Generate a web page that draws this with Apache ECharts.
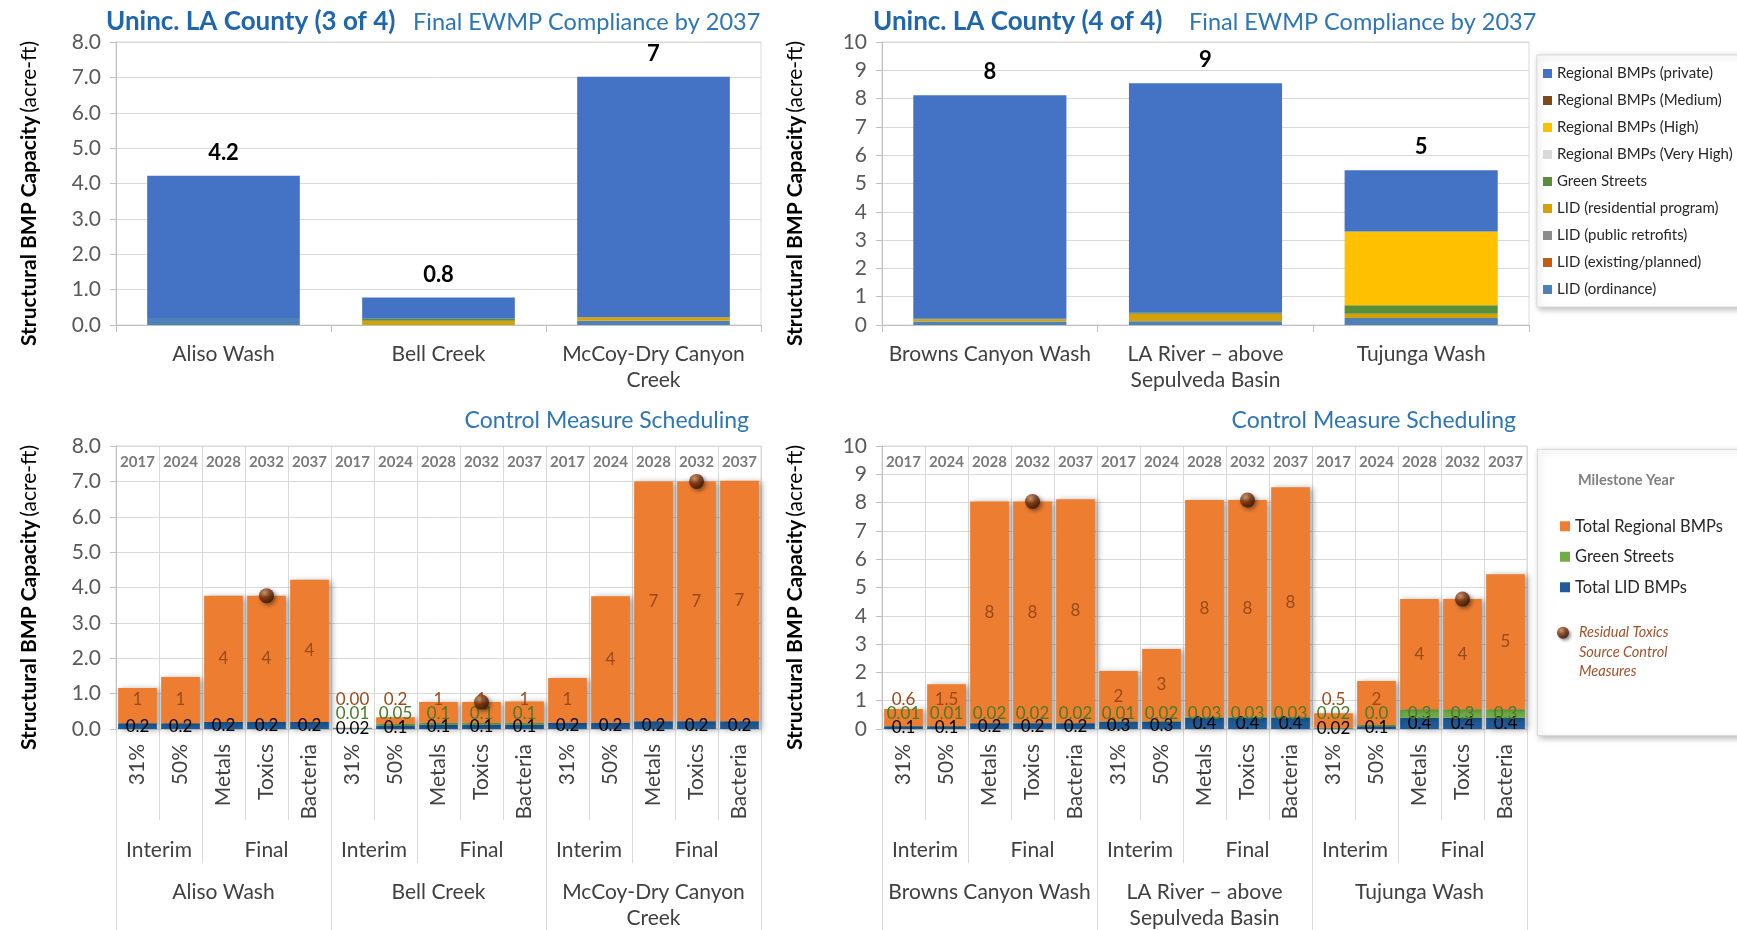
<!DOCTYPE html>
<html>
<head>
<meta charset="utf-8">
<title>Uninc. LA County – EWMP Compliance</title>
<script src="https://cdn.jsdelivr.net/npm/echarts@6/dist/echarts.min.js"></script>
<style>
  html, body { margin: 0; padding: 0; background: #ffffff; }
  #chart { width: 1737px; height: 930px; }
</style>
</head>
<body>
<div id="chart"></div>
<script>
// ---------------- categories ----------------
const watershedsLeft  = ['Aliso Wash', 'Bell Creek', 'McCoy-Dry Canyon\nCreek'];
const watershedsRight = ['Browns Canyon Wash', 'LA River – above\nSepulveda Basin', 'Tujunga Wash'];
const milestoneYears  = ['2017', '2024', '2028', '2032', '2037'];
const targets         = ['31%', '50%', 'Metals', 'Toxics', 'Bacteria'];
const phaseNames      = ['Interim', 'Final'];
const phaseSpans      = [2, 3];
const residualTarget  = 'Toxics';

// ---------------- final compliance by 2037 (acre-ft), watersheds 3 of 4 ----------------
const lidOrdinanceL      = [0.20, 0.00, 0.12];
const lidExistingL       = [0, 0, 0];
const lidPublicL         = [0, 0, 0];
const lidResidentialL    = [0.00, 0.12, 0.10];
const greenStreetsL      = [0.00, 0.06, 0.00];
const regionalVeryHighL  = [0, 0, 0];
const regionalHighL      = [0, 0, 0];
const regionalMediumL    = [0, 0, 0];
const regionalPrivateL   = [4.02, 0.60, 6.80];
const totalDigitsL       = [1, 1, 0];

// ---------------- final compliance by 2037 (acre-ft), watersheds 4 of 4 ----------------
const lidOrdinanceR      = [0.12, 0.13, 0.25];
const lidExistingR       = [0, 0, 0];
const lidPublicR         = [0, 0, 0];
const lidResidentialR    = [0.08, 0.27, 0.15];
const greenStreetsR      = [0.02, 0.03, 0.30];
const regionalVeryHighR  = [0, 0, 0];
const regionalHighR      = [0.00, 0.00, 2.60];
const regionalMediumR    = [0, 0, 0];
const regionalPrivateR   = [7.90, 8.11, 2.17];
const totalDigitsR       = [0, 0, 0];

// ---------------- control measure scheduling (acre-ft) ----------------
// five milestones per watershed, in watershed order
const lidTotalL        = [0.16, 0.16, 0.20, 0.20, 0.20,  0.02, 0.10, 0.12, 0.12, 0.12,  0.18, 0.18, 0.22, 0.22, 0.22];
const greenTotalL      = [0, 0, 0, 0, 0,                 0.01, 0.05, 0.06, 0.06, 0.06,  0, 0, 0, 0, 0];
const regionalTotalL   = [1.00, 1.31, 3.57, 3.57, 4.02,  0.004, 0.18, 0.58, 0.58, 0.60, 1.26, 3.57, 6.78, 6.78, 6.80];
const lidDigitsL       = [1, 1, 1, 1, 1,  2, 1, 1, 1, 1,  1, 1, 1, 1, 1];
const greenDigitsL     = [2, 2, 2, 2, 2,  2, 2, 1, 1, 1,  2, 2, 2, 2, 2];
const regionalDigitsL  = [0, 0, 0, 0, 0,  2, 1, 0, 0, 0,  0, 0, 0, 0, 0];

const lidTotalR        = [0.10, 0.10, 0.20, 0.20, 0.20,  0.26, 0.26, 0.40, 0.40, 0.40,  0.02, 0.10, 0.40, 0.40, 0.40];
const greenTotalR      = [0.01, 0.01, 0.02, 0.02, 0.02,  0.01, 0.02, 0.03, 0.03, 0.03,  0.02, 0.04, 0.30, 0.30, 0.30];
const regionalTotalR   = [0.60, 1.47, 7.82, 7.82, 7.90,  1.78, 2.55, 7.66, 7.66, 8.11,  0.52, 1.56, 3.89, 3.89, 4.77];
const lidDigitsR       = [1, 1, 1, 1, 1,  1, 1, 1, 1, 1,  2, 1, 1, 1, 1];
const greenDigitsR     = [2, 2, 2, 2, 2,  2, 2, 2, 2, 2,  2, 1, 1, 1, 1];
const regionalDigitsR  = [1, 1, 0, 0, 0,  0, 0, 0, 0, 0,  1, 0, 0, 0, 0];

// ---------------- layout & style ----------------
const FONT = 'Lato, "Open Sans", "Noto Sans", sans-serif';
const TOP_Y = 42, TOP_H = 283;
const SCHED_Y = 446, SCHED_H = 283;
const AXIS_ZERO_Y = SCHED_Y + SCHED_H;
const GRID_LINE = '#d9d9d9';
const AXIS_LINE = '#bfbfbf';

const bmpLayers = [ // stacked bottom to top
  { name: 'LID (ordinance)',           color: '#4f81b9', left: lidOrdinanceL,     right: lidOrdinanceR },
  { name: 'LID (existing/planned)',    color: '#c55a11', left: lidExistingL,      right: lidExistingR },
  { name: 'LID (public retrofits)',    color: '#8c8c8c', left: lidPublicL,        right: lidPublicR },
  { name: 'LID (residential program)', color: '#d4a106', left: lidResidentialL,   right: lidResidentialR },
  { name: 'Green Streets',             color: '#588e37', left: greenStreetsL,     right: greenStreetsR },
  { name: 'Regional BMPs (Very High)', color: '#d9d9d9', left: regionalVeryHighL, right: regionalVeryHighR },
  { name: 'Regional BMPs (High)',      color: '#ffc000', left: regionalHighL,     right: regionalHighR },
  { name: 'Regional BMPs (Medium)',    color: '#7b4a16', left: regionalMediumL,   right: regionalMediumR },
  { name: 'Regional BMPs (private)',   color: '#4472c4', left: regionalPrivateL,  right: regionalPrivateR }
];

const COLOR_REGIONAL = '#ed7d31';
const COLOR_GREEN = '#70ad47';
const COLOR_LID = '#1f5c99';
const sphere = {
  type: 'radial', x: 0.38, y: 0.32, r: 0.72,
  colorStops: [
    { offset: 0, color: '#d08a52' },
    { offset: 0.45, color: '#7c3610' },
    { offset: 1, color: '#2b1002' }
  ]
};

function stackTotals(side) {
  return bmpLayers[0][side].map((_, i) => bmpLayers.reduce((s, l) => s + l[side][i], 0));
}
const totalsLeft = stackTotals('left');
const totalsRight = stackTotals('right');

// ---------------- axes ----------------
function valueAxis(gridIndex, max, digits) {
  return {
    type: 'value', gridIndex, min: 0, max, interval: 1,
    axisLabel: { formatter: v => v.toFixed(digits), fontSize: 21, color: '#595959', margin: 15, fontFamily: FONT },
    axisLine: { show: true, lineStyle: { color: AXIS_LINE } },
    axisTick: { show: true, length: 6, lineStyle: { color: AXIS_LINE } },
    splitLine: { show: true, lineStyle: { color: GRID_LINE } },
    name: '{b|Structural BMP Capacity} {r|(acre-ft)}',
    nameLocation: 'middle', nameGap: 76,
    nameTextStyle: {
      padding: [0, 20, 0, 0],
      rich: {
        b: { fontWeight: 'bold', fontSize: 21, color: '#000', fontFamily: FONT },
        r: { fontSize: 21, color: '#000', fontFamily: FONT }
      }
    }
  };
}

function complianceXAxis(gridIndex, data) {
  return {
    type: 'category', gridIndex, data, position: 'bottom',
    axisLabel: { interval: 0, fontSize: 21, lineHeight: 26, color: '#404040', margin: 16, fontFamily: FONT },
    axisTick: { show: true, length: 7, lineStyle: { color: AXIS_LINE } },
    axisLine: { show: true, lineStyle: { color: AXIS_LINE } },
    splitLine: { show: false }
  };
}

// one column per milestone, grouped by watershed
function scheduleColumns(watersheds) {
  const cols = [], years = [];
  watersheds.forEach(() => { targets.forEach(t => cols.push(t)); milestoneYears.forEach(y => years.push(y)); });
  return { cols, years };
}
// points at half-column steps: index 2*k is the left edge of column k
function levelRows(watersheds) {
  const n = watersheds.length * targets.length * 2 + 1;
  const phaseRow = new Array(n).fill('');
  const shedRow = new Array(n).fill('');
  const phaseEdges = [];
  const shedEdges = [];
  watersheds.forEach((w, wi) => {
    const base = wi * targets.length * 2;
    shedEdges.push(base);
    shedRow[base + targets.length] = w;
    let start = base;
    phaseNames.forEach((p, pi) => {
      phaseRow[start + phaseSpans[pi]] = p;
      start += phaseSpans[pi] * 2;
      if (pi < phaseNames.length - 1) phaseEdges.push(start);
    });
  });
  shedEdges.push(n - 1);
  return { phaseRow, shedRow, phaseEdges, shedEdges };
}

function scheduleXAxes(gridIndex, watersheds) {
  const { cols, years } = scheduleColumns(watersheds);
  const { phaseRow, shedRow, phaseEdges, shedEdges } = levelRows(watersheds);
  return [
    {
      type: 'category', gridIndex, data: cols, position: 'bottom', boundaryGap: true,
      axisLabel: { interval: 0, rotate: 90, margin: 15, fontSize: 21, color: '#404040', fontFamily: FONT },
      axisTick: { show: true, interval: 0, length: 91, lineStyle: { color: GRID_LINE } },
      axisLine: { show: true, lineStyle: { color: GRID_LINE } },
      splitLine: { show: true, interval: 0, lineStyle: { color: GRID_LINE } }
    },
    {
      type: 'category', gridIndex, data: years, position: 'top', boundaryGap: true,
      axisLabel: { inside: true, interval: 0, margin: 9, fontSize: 15, fontWeight: 'bold', color: '#7a7a7a', fontFamily: FONT },
      axisTick: { show: false }, axisLine: { show: false }, splitLine: { show: false }
    },
    {
      type: 'category', gridIndex, data: phaseRow, position: 'bottom', boundaryGap: false,
      axisLabel: { interval: 0, margin: 108, fontSize: 21, lineHeight: 26, color: '#404040', fontFamily: FONT },
      axisTick: { show: true, interval: i => phaseEdges.includes(i), length: 134, lineStyle: { color: GRID_LINE } },
      axisLine: { show: false }, splitLine: { show: false }
    },
    {
      type: 'category', gridIndex, data: shedRow, position: 'bottom', boundaryGap: false,
      axisLabel: { interval: 0, margin: 150, fontSize: 21, lineHeight: 26, color: '#404040', fontFamily: FONT },
      axisTick: { show: true, interval: i => shedEdges.includes(i), length: 215, lineStyle: { color: GRID_LINE } },
      axisLine: { show: false }, splitLine: { show: false }
    }
  ];
}

// ---------------- series ----------------
function complianceSeries(side, xAxisIndex, yAxisIndex, totals, digits) {
  return bmpLayers.map((layer, li) => {
    const s = {
      type: 'bar', name: layer.name, stack: 'compliance-' + side,
      xAxisIndex, yAxisIndex, data: layer[side],
      barCategoryGap: '29%',
      itemStyle: { color: layer.color },
      emphasis: { disabled: true }
    };
    if (li === bmpLayers.length - 1) {
      s.label = {
        show: true, position: 'top', distance: 12,
        fontSize: 22, fontWeight: 'bold', color: '#000', fontFamily: FONT,
        formatter: p => totals[p.dataIndex].toFixed(digits[p.dataIndex])
      };
    }
    return s;
  });
}

// labels of thin segments are lifted so the three values read as a column
const liftLabel = lift => params => {
  const r = params.rect;
  const cy = r.y + r.height / 2;
  return { x: r.x + r.width / 2, y: Math.min(cy, AXIS_ZERO_Y - lift), align: 'center', verticalAlign: 'middle' };
};

function fmt(values, digits) {
  return p => (values[p.dataIndex] > 0 ? values[p.dataIndex].toFixed(digits[p.dataIndex]) : '');
}

const barShadow = { shadowColor: 'rgba(0,0,0,0.35)', shadowBlur: 6, shadowOffsetX: 3, shadowOffsetY: 1 };

function scheduleSeries(tag, xAxisIndex, yAxisIndex, lid, green, regional, lidD, greenD, regionalD) {
  const common = { type: 'bar', stack: 'schedule-' + tag, xAxisIndex, yAxisIndex, barCategoryGap: '10%', emphasis: { disabled: true } };
  const totals = lid.map((v, i) => v + green[i] + regional[i]);
  const residualPoints = [];
  totals.forEach((t, i) => { if (targets[i % targets.length] === residualTarget) residualPoints.push([i, t]); });
  return [
    Object.assign({}, common, {
      name: 'Total LID BMPs', data: lid,
      itemStyle: Object.assign({ color: COLOR_LID }, barShadow),
      label: { show: true, position: 'inside', fontSize: 17, color: '#000', fontFamily: FONT, formatter: fmt(lid, lidD) }
    }),
    Object.assign({}, common, {
      name: 'Green Streets', data: green,
      itemStyle: Object.assign({ color: COLOR_GREEN }, barShadow),
      label: { show: true, position: 'inside', fontSize: 17, color: '#4a7a28', fontFamily: FONT, formatter: fmt(green, greenD) },
      labelLayout: liftLabel(15)
    }),
    Object.assign({}, common, {
      name: 'Total Regional BMPs', data: regional,
      itemStyle: Object.assign({ color: COLOR_REGIONAL }, barShadow),
      label: { show: true, position: 'inside', fontSize: 17, color: '#9a4a1a', fontFamily: FONT, formatter: fmt(regional, regionalD) },
      labelLayout: liftLabel(29)
    }),
    {
      type: 'scatter', name: 'Residual Toxics Source Control Measures',
      xAxisIndex, yAxisIndex, data: residualPoints, symbolSize: 15, z: 5,
      itemStyle: { color: sphere, shadowColor: 'rgba(0,0,0,0.55)', shadowBlur: 4, shadowOffsetX: 2, shadowOffsetY: 2 },
      emphasis: { disabled: true }
    }
  ];
}

// ---------------- chart ----------------
const chart = echarts.init(document.getElementById('chart'), null, { renderer: 'canvas' });

const gridBase = { show: true, borderColor: GRID_LINE, borderWidth: 1, backgroundColor: 'transparent', containLabel: false, outerBoundsMode: 'none' };

const titleStyle = (size, weight, color) => ({ fontSize: size, fontWeight: weight, color, fontFamily: FONT });

const option = {
  animation: false,
  backgroundColor: '#ffffff',
  textStyle: { fontFamily: FONT },
  title: [
    { text: 'Uninc. LA County (3 of 4)', left: 106, top: 9, padding: 0, textStyle: titleStyle(26, 'bold', '#1f66ab') },
    { text: 'Final EWMP Compliance by 2037', left: 413, top: 10, padding: 0, textStyle: titleStyle(23.5, 'normal', '#2e75b6') },
    { text: 'Uninc. LA County (4 of 4)', left: 873, top: 9, padding: 0, textStyle: titleStyle(26, 'bold', '#1f66ab') },
    { text: 'Final EWMP Compliance by 2037', left: 1189, top: 10, padding: 0, textStyle: titleStyle(23.5, 'normal', '#2e75b6') },
    { text: 'Control Measure Scheduling', right: 988, top: 409, padding: 0, textStyle: titleStyle(23, 'normal', '#2e75b6') },
    { text: 'Control Measure Scheduling', right: 221, top: 409, padding: 0, textStyle: titleStyle(23, 'normal', '#2e75b6') }
  ],
  grid: [
    Object.assign({ left: 116, top: TOP_Y, width: 645, height: TOP_H }, gridBase),
    Object.assign({ left: 882, top: TOP_Y, width: 647, height: TOP_H }, gridBase),
    Object.assign({ left: 116, top: SCHED_Y, width: 645, height: SCHED_H }, gridBase),
    Object.assign({ left: 882, top: SCHED_Y, width: 645, height: SCHED_H }, gridBase)
  ],
  xAxis: [
    complianceXAxis(0, watershedsLeft),
    complianceXAxis(1, watershedsRight),
    ...scheduleXAxes(2, watershedsLeft),
    ...scheduleXAxes(3, watershedsRight)
  ],
  yAxis: [
    valueAxis(0, 8, 1),
    valueAxis(1, 10, 0),
    valueAxis(2, 8, 1),
    valueAxis(3, 10, 0)
  ],
  legend: [
    {
      orient: 'vertical', left: 1537, top: 55,
      padding: [10, 30, 9, 6], itemWidth: 9, itemHeight: 9, itemGap: 10, icon: 'rect',
      backgroundColor: '#ffffff', borderColor: '#d9d9d9', borderWidth: 1,
      shadowBlur: 6, shadowColor: 'rgba(0,0,0,0.28)', shadowOffsetX: 2, shadowOffsetY: 2,
      textStyle: { fontSize: 15, color: '#262626', lineHeight: 17, fontFamily: FONT },
      data: bmpLayers.slice().reverse().map(l => ({ name: l.name, itemStyle: { color: l.color } })),
      selectedMode: false
    },
    {
      orient: 'vertical', left: 1560, top: 517, padding: 0,
      itemWidth: 10, itemHeight: 10, itemGap: 12, icon: 'rect',
      textStyle: { fontSize: 16.5, color: '#262626', lineHeight: 18.5, fontFamily: FONT },
      data: [
        { name: 'Total Regional BMPs', itemStyle: { color: COLOR_REGIONAL } },
        { name: 'Green Streets', itemStyle: { color: COLOR_GREEN } },
        { name: 'Total LID BMPs', itemStyle: { color: COLOR_LID } }
      ],
      selectedMode: false
    },
    {
      orient: 'vertical', left: 1557, top: 584, padding: 0,
      itemWidth: 22, itemHeight: 12,
      // two blank leading lines keep the marker level with the first line of text
      formatter: () => '\n\nResidual Toxics\nSource Control\nMeasures',
      textStyle: { fontSize: 14.5, fontStyle: 'italic', color: '#a0522d', lineHeight: 19.5, fontFamily: FONT },
      data: [{ name: 'Residual Toxics Source Control Measures', icon: 'circle', itemStyle: { color: sphere, shadowColor: 'rgba(0,0,0,0.5)', shadowBlur: 3, shadowOffsetX: 2, shadowOffsetY: 2 } }],
      selectedMode: false
    }
  ],
  graphic: [
    {
      type: 'rect', left: 1537, top: 449, z: 0,
      shape: { width: 215, height: 286 },
      style: { fill: '#ffffff', stroke: '#d9d9d9', lineWidth: 1, shadowBlur: 6, shadowColor: 'rgba(0,0,0,0.28)', shadowOffsetX: 2, shadowOffsetY: 2 }
    },
    {
      type: 'text', left: 1578, top: 473, z: 1,
      style: { text: 'Milestone Year', fontSize: 14.5, fontWeight: 'bold', fill: '#7f7f7f', fontFamily: FONT }
    }
  ],
  series: [
    ...complianceSeries('left', 0, 0, totalsLeft, totalDigitsL),
    ...complianceSeries('right', 1, 1, totalsRight, totalDigitsR),
    ...scheduleSeries('left', 2, 2, lidTotalL, greenTotalL, regionalTotalL, lidDigitsL, greenDigitsL, regionalDigitsL),
    ...scheduleSeries('right', 6, 3, lidTotalR, greenTotalR, regionalTotalR, lidDigitsR, greenDigitsR, regionalDigitsR)
  ]
};

chart.setOption(option);
</script>
</body>
</html>
